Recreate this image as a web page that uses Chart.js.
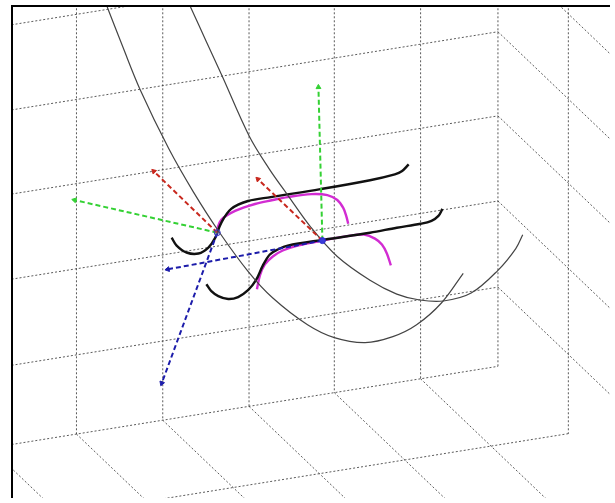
<!DOCTYPE html>
<html>
<head>
<meta charset="utf-8">
<script src="https://cdn.jsdelivr.net/npm/chart.js@4.4.1/dist/chart.umd.min.js"></script>
<style>
  html, body { margin: 0; padding: 0; background: #fff; }
  canvas { display: block; }
</style>
</head>
<body>
<canvas id="plot" width="615" height="503"></canvas>
<script>
// --- box grid (positions, screen units) ---
const backWallX = [-10, 77, 164, 251, 337, 424];   // vertical lines on the back wall
const backWallZ = [-54, 32, 117, 203, 290];        // wall horizontals, height at the right corner
const cornerX = 502;                               // back wall / side wall edge
const floorZ = 370;                                // bottom edge of the back wall
const wallSlope = 0.161;                           // back wall horizontals rise to the right
const depthStep = [71, 68];                        // one grid step into the depth
const sideWallSteps = [1];                         // side wall verticals (in depth steps)

// --- curves ---
const grayCurveA = [[108,7],[124,48],[141,90],[170,150],[195,194],[220,233],[250,274],[275,301],[310,328],
  [337,341],[368,346],[396,340],[420,328],[445,306],[467,276]];
const grayCurveB = [[192,7],[208,42],[224,77],[251,137],[271,170],[290,197],[313,229],[340,259],[373,283],
  [400,297],[423,303],[447,304],[475,296],[502,273],[520,251],[527,237]];
const blackUpper = [[173,240],[178,248],[188,255],[200,256],[210,250],[217,240],[223,225],[233,211],
  [250,203],[273,199],[323,191],[373,182],[398,176],[405,173],[412,166]];
const blackLower = [[208,287],[213,294],[220,299],[230,302],[240,300],[250,293],[258,283],[265,268],
  [272,257],[280,252],[290,248],[327,242],[373,235],[400,230],[424,226],[435,223],[442,218],[446,211]];
const magentaUpper = [[218,234],[223,222],[237,213],[257,206],[275,202],[290,199],[314,196],[330,197],
  [340,202],[346,210],[349,218],[351,226]];
const magentaLower = [[259,292],[262,278],[267,267],[275,259],[285,253],[300,248],[325,243],[353,238],
  [367,237],[378,241],[385,247],[390,256],[394,268]];

// --- frames (origin + three axis tips) ---
const frameLeft = { origin: [219,235], red: [155,173], green: [75,202], blue: [163,387] };
const frameRight = { origin: [325,243], red: [260,181], green: [321,88], blue: [169,272] };

const pts = arr => arr.map(p => ({ x: p[0], y: p[1] }));
const yOnWall = (x, z) => z + wallSlope * (cornerX - x);

const gridColor = 'rgba(50,50,50,0.8)';
const datasets = [];

function gridLine(a, b) {
  datasets.push({
    data: pts([a, b]), showLine: true, pointRadius: 0,
    borderColor: gridColor, borderWidth: 1, borderDash: [2, 2], order: 10
  });
}

backWallZ.concat([floorZ]).forEach(z => gridLine([-80, yOnWall(-80, z)], [cornerX, z]));
backWallX.concat([cornerX]).forEach(x => gridLine([x, -20], [x, yOnWall(x, floorZ)]));
backWallX.forEach(x => {
  const y0 = yOnWall(x, floorZ);
  gridLine([x, y0], [x + 3 * depthStep[0], y0 + 3 * depthStep[1]]);
});
backWallZ.forEach(z => gridLine([cornerX, z], [cornerX + 3 * depthStep[0], z + 3 * depthStep[1]]));
sideWallSteps.forEach(k => {
  const x = cornerX + k * depthStep[0];
  const y = floorZ + k * depthStep[1];
  gridLine([x, -20], [x, y]);
  gridLine([x, y], [80, y + wallSlope * (x - 80)]);
});

function curve(arr, color, width) {
  datasets.push({
    data: pts(arr), showLine: true, pointRadius: 0, tension: 0.35,
    borderColor: color, borderWidth: width, order: 5
  });
}
curve(grayCurveA, '#444', 1.2);
curve(grayCurveB, '#444', 1.2);
curve(blackUpper, '#111', 2.4);
curve(blackLower, '#111', 2.4);
curve(magentaUpper, '#d22cd2', 2.4);
curve(magentaLower, '#d22cd2', 2.4);

const arrowColors = { red: '#c8281e', green: '#34d134', blue: '#1c1caa' };
[frameLeft, frameRight].forEach(f => {
  ['red', 'green', 'blue'].forEach(k => {
    const a = f.origin, b = f[k];
    const rot = Math.atan2(b[0] - a[0], -(b[1] - a[1])) * 180 / Math.PI;
    datasets.push({
      data: pts([a, b]), showLine: true,
      borderColor: arrowColors[k], backgroundColor: arrowColors[k],
      borderWidth: 2, borderDash: [5, 3],
      pointRadius: [0, 2.8], pointStyle: 'triangle', rotation: [0, rot],
      pointBorderWidth: 1, order: 2
    });
  });
});

datasets.push({
  data: pts([frameLeft.origin]), pointRadius: 3, pointStyle: 'circle',
  borderColor: '#3a3ac0', backgroundColor: 'rgba(90,90,200,0.25)', borderWidth: 1, order: 1
});
datasets.push({
  data: pts([frameRight.origin]), pointRadius: 3, pointStyle: 'circle',
  borderColor: '#2a2ad0', backgroundColor: '#3a3ad8', borderWidth: 1, order: 1
});

const framePlugin = {
  id: 'frame',
  afterDraw(chart) {
    const ctx = chart.ctx;
    const area = chart.chartArea;
    ctx.save();
    ctx.fillStyle = '#000';
    ctx.fillRect(area.left - 2, area.top - 2, area.right - area.left + 2, 2);
    ctx.fillRect(area.left - 2, area.top - 2, 2, area.bottom - area.top + 2);
    ctx.restore();
  }
};

new Chart(document.getElementById('plot'), {
  type: 'scatter',
  data: { datasets: datasets },
  options: {
    responsive: false,
    animation: false,
    layout: { padding: { left: 13, top: 7, right: 0, bottom: 0 } },
    plugins: { legend: { display: false }, tooltip: { enabled: false } },
    scales: {
      x: { type: 'linear', display: false, min: 13, max: 615 },
      y: { type: 'linear', display: false, min: 7, max: 503, reverse: true }
    }
  },
  plugins: [framePlugin]
});
</script>
</body>
</html>
